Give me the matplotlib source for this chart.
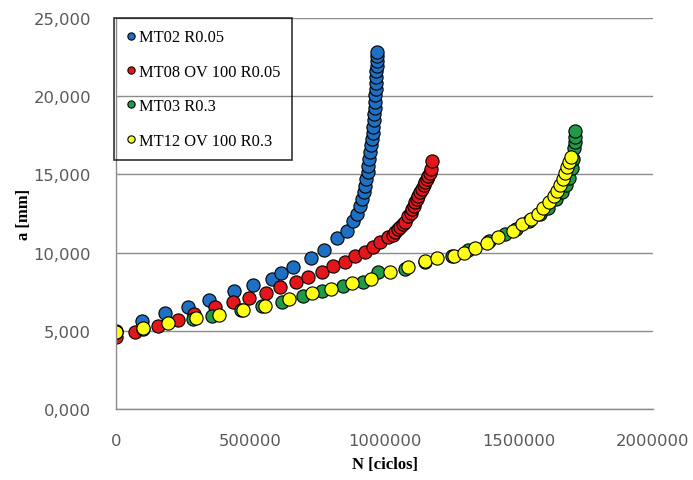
import matplotlib
matplotlib.use("Agg")
import matplotlib.pyplot as plt
from matplotlib.ticker import FuncFormatter, MultipleLocator

# crack length a [mm] vs. number of cycles N for each specimen
mt02_n = [0, 97000, 183000, 269000, 347000, 440000, 511000, 581000, 615000,
          660000, 727000, 775000, 823000, 861000, 884000, 898000, 910000,
          917000, 922000, 927000, 932000, 937000, 940000, 943000, 947000,
          950000, 953000, 956000, 958000, 960000, 962000, 963000, 965000,
          966000, 967000, 968000, 969000, 970000, 971000, 972000, 972500,
          973000]
mt02_a = [5000, 5630, 6140, 6520, 6970, 7540, 7920, 8310, 8690,
          9070, 9650, 10170, 10930, 11380, 12020, 12470, 12980,
          13430, 13870, 14260, 14700, 15150, 15540, 15990, 16430,
          16850, 17250, 17650, 18050, 18450, 18850, 19250, 19650,
          20050, 20450, 20850, 21250, 21600, 21950, 22250, 22550,
          22830]

mt08_n = [0, 71000, 157000, 231000, 290000, 369000, 436000, 496000, 559000,
          611000, 671000, 716000, 768000, 809000, 854000, 891000, 928000,
          958000, 984000, 1014000, 1030000, 1040000, 1052000, 1059000,
          1070000, 1078000, 1089000, 1097000, 1104000, 1110000, 1115000,
          1121000, 1126000, 1134000, 1141000, 1147000, 1152000, 1158000,
          1163000, 1169000, 1174000, 1178000]
mt08_a = [4600, 4920, 5300, 5690, 6070, 6520, 6840, 7090, 7410,
          7800, 8120, 8440, 8760, 9140, 9400, 9780, 10040,
          10360, 10680, 11000, 11150, 11320, 11480, 11640,
          11800, 11960, 12340, 12560, 12790, 13000, 13230,
          13420, 13620, 13850, 14070, 14300, 14510, 14700,
          14900, 15120, 15350, 15860]

mt03_n = [0, 101000, 287000, 358000, 466000, 544000, 619000, 697000, 768000,
          846000, 921000, 977000, 1077000, 1150000, 1252000, 1310000,
          1390000, 1450000, 1490000, 1540000, 1580000, 1610000, 1640000,
          1660000, 1675000, 1688000, 1697000, 1703000, 1707000, 1709000,
          1710000, 1711000]
mt03_a = [4950, 5100, 5750, 5950, 6330, 6580, 6840, 7220, 7540,
          7860, 8120, 8760, 8950, 9380, 9780, 10150,
          10740, 11200, 11500, 12000, 12450, 12850, 13400,
          13850, 14300, 14800, 15400, 16000, 16690, 17070,
          17390, 17770]

mt12_n = [0, 101000, 194000, 298000, 384000, 473000, 555000, 645000, 731000,
          801000, 880000, 951000, 1021000, 1087000, 1152000, 1196000,
          1258000, 1297000, 1338000, 1383000, 1424000, 1480000, 1513000,
          1544000, 1570000, 1592000, 1614000, 1633000, 1644000, 1655000,
          1663000, 1674000, 1681000, 1689000, 1696000]
mt12_a = [4920, 5180, 5500, 5810, 6000, 6330, 6580, 7030, 7410,
          7670, 8060, 8310, 8760, 9100, 9460, 9650,
          9780, 9970, 10290, 10610, 11000, 11380, 11830,
          12150, 12470, 12850, 13230, 13620, 13940, 14320,
          14710, 15090, 15470, 15790, 16110]

series = [
    ("MT02 R0.05", mt02_n, mt02_a, "#1f6fc2"),
    ("MT08 OV 100 R0.05", mt08_n, mt08_a, "#e3161b"),
    ("MT03 R0.3", mt03_n, mt03_a, "#1f9a48"),
    ("MT12 OV 100 R0.3", mt12_n, mt12_a, "#ffff14"),
]

fig = plt.figure(figsize=(6.93, 4.81), dpi=100)
ax = fig.add_axes([116 / 693, 1 - 410 / 481, 537 / 693, 391 / 481])

for label, n, a, color in series:
    ax.plot(n, a, linestyle="none", marker="o", markersize=9.5,
            markerfacecolor=color, markeredgecolor="black",
            markeredgewidth=0.8, label=label)

ax.set_xlim(0, 2000000)
ax.set_ylim(0, 25000)
ax.xaxis.set_major_locator(MultipleLocator(500000))
ax.yaxis.set_major_locator(MultipleLocator(5000))
ax.xaxis.set_major_formatter(FuncFormatter(lambda v, p: f"{v:.0f}"))
ax.yaxis.set_major_formatter(
    FuncFormatter(lambda v, p: f"{v / 1000:.3f}".replace(".", ",")))

ax.grid(axis="y", color="#8c8c8c", linewidth=1.0)
ax.set_axisbelow(True)
for side in ("top", "right"):
    ax.spines[side].set_visible(False)
for side in ("left", "bottom"):
    ax.spines[side].set_color("#8c8c8c")
    ax.spines[side].set_linewidth(1.0)
ax.tick_params(length=0, labelsize=11.8, labelcolor="#595959")
ax.tick_params(axis="x", pad=17)
ax.tick_params(axis="y", pad=18)

ax.set_xlabel("N [ciclos]", family="Liberation Serif", fontweight="bold",
              fontsize=12, labelpad=6)
ax.set_ylabel("a [mm]", family="Liberation Serif", fontweight="bold",
              fontsize=12, labelpad=1)

leg = ax.legend(loc="upper left", bbox_to_anchor=(-0.004, 1.0),
                borderaxespad=0, prop={"family": "Liberation Serif", "size": 11.8},
                markerscale=0.55, handlelength=0.7, handletextpad=0.15,
                labelspacing=1.12, borderpad=0.7, fancybox=False,
                frameon=True)
leg.get_frame().set_edgecolor("black")
leg.get_frame().set_linewidth(1.2)
leg.get_frame().set_facecolor("none")

fig.savefig("out.png", dpi=100)
